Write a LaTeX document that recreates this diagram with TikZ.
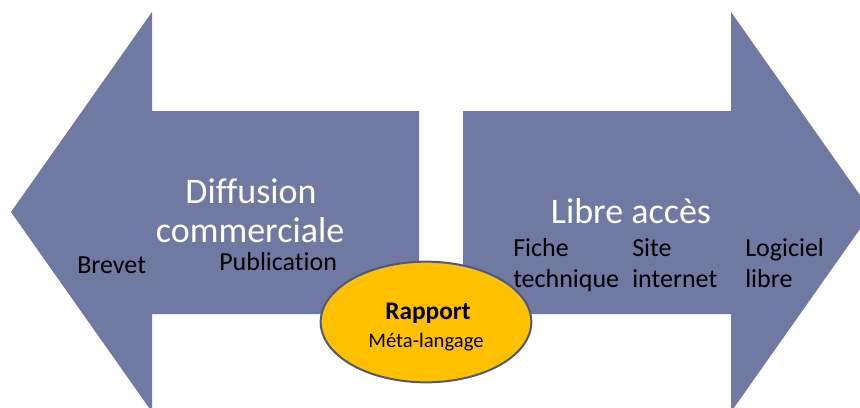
\documentclass[tikz,border=0pt]{standalone}
\usepackage{fontspec}
\setmainfont{Carlito}[Ligatures=NoCommon]
\usetikzlibrary{shapes.geometric}
\definecolor{arrowfill}{HTML}{7079A1}
\definecolor{ellfill}{HTML}{FFC000}
\definecolor{ellline}{HTML}{4D5A80}
\tikzset{
  bigarrow/.style={fill=arrowfill, draw=none},
  titletext/.style={text=white, font=\fontsize{27pt}{29pt}\selectfont, inner sep=0pt},
  smalltext/.style={text=black, font=\fontsize{19.5pt}{23pt}\selectfont, inner sep=0pt, anchor=base west},
  elltext/.style={text=black, font=\fontsize{15.5pt}{18pt}\selectfont, inner sep=0pt, anchor=base},
}
\begin{document}
\begin{tikzpicture}[x=0.75pt, y=-0.75pt]
\useasboundingbox (0,0) rectangle (860,407);
\clip (0,0) rectangle (860,407);
% left arrow
\fill[bigarrow] (11,212) -- (152,12) -- (152,111) -- (419,111) -- (419,314) -- (152,314) -- (152,412) -- cycle;
% right arrow
\fill[bigarrow] (463,111) -- (731,111) -- (731,12) -- (872,212) -- (731,412) -- (731,314) -- (463,314) -- cycle;
% titles
\node[titletext, anchor=base] (diff1) at (251,203) {Diffusion};
\node[titletext, anchor=base] (diff2) at (250,242) {commerciale};
\node[titletext, anchor=base] (libre) at (631,223) {Libre accès};
% items
\node[smalltext] (brevet) at (77,273) {Brevet};
\node[smalltext] (pub) at (219,270) {Publication};
\node[smalltext] (fiche1) at (513,256) {Fiche};
\node[smalltext] (fiche2) at (513,287) {technique};
\node[smalltext] (site1) at (632,256) {Site};
\node[smalltext] (site2) at (632,287) {internet};
\node[smalltext] (log1) at (745,256) {Logiciel};
\node[smalltext] (log2) at (745,287) {libre};
% ellipse
\node[ellipse, fill=ellfill, draw=ellline, line width=1.5pt, minimum width=158pt, minimum height=90.5pt, inner sep=0pt] (rapport) at (426,322) {};
\node[elltext, font=\fontsize{19pt}{22pt}\selectfont\bfseries] (rap) at (428,319) {Rapport};
\node[elltext] (meta) at (426,347) {Méta-langage};
\end{tikzpicture}
\end{document}
